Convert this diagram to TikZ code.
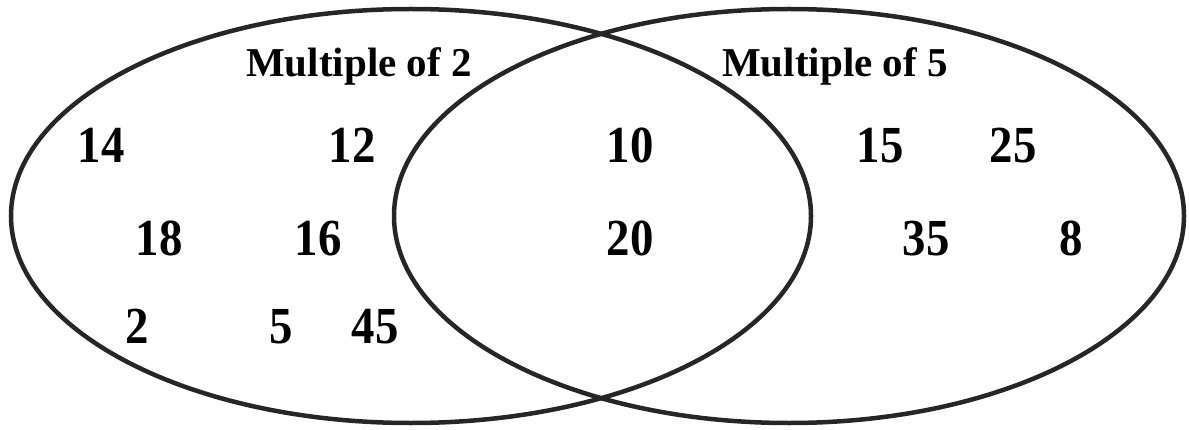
\documentclass[tikz,border=0pt]{standalone}
\usepackage{fontspec}
\setmainfont{Liberation Serif}
\newfontfamily\numfont[FakeStretch=0.9]{Liberation Serif}
\begin{document}
\begin{tikzpicture}[x=1pt,y=-1pt,
  setline/.style={draw=black!85,line width=4.5pt},
  lbl/.style={anchor=base,inner sep=0pt,font=\fontsize{41}{41}\selectfont\bfseries},
  num/.style={anchor=base,inner sep=0pt,font=\numfont\fontsize{52}{52}\selectfont\bfseries}]
\useasboundingbox (0,0) rectangle (1190,430);
\draw[setline] (411,216) ellipse [x radius=400pt, y radius=207pt];
\draw[setline] (789,216) ellipse [x radius=395pt, y radius=207pt];
\node[lbl] (l2) at (359,77) {Multiple of 2};
\node[lbl] (l5) at (835,77) {Multiple of 5};
\node[num] (n14) at (101,163) {14};
\node[num] (n12) at (352,163) {12};
\node[num] (n10) at (630,163) {10};
\node[num] (n15) at (880,163) {15};
\node[num] (n25) at (1013,163) {25};
\node[num] (n18) at (159,255) {18};
\node[num] (n16) at (318,255) {16};
\node[num] (n20) at (630,255) {20};
\node[num] (n35) at (926,255) {35};
\node[num] (n8) at (1071,255) {8};
\node[num] (n2) at (137,343) {2};
\node[num] (n5) at (281,343) {5};
\node[num] (n45) at (375,343) {45};
\end{tikzpicture}
\end{document}
